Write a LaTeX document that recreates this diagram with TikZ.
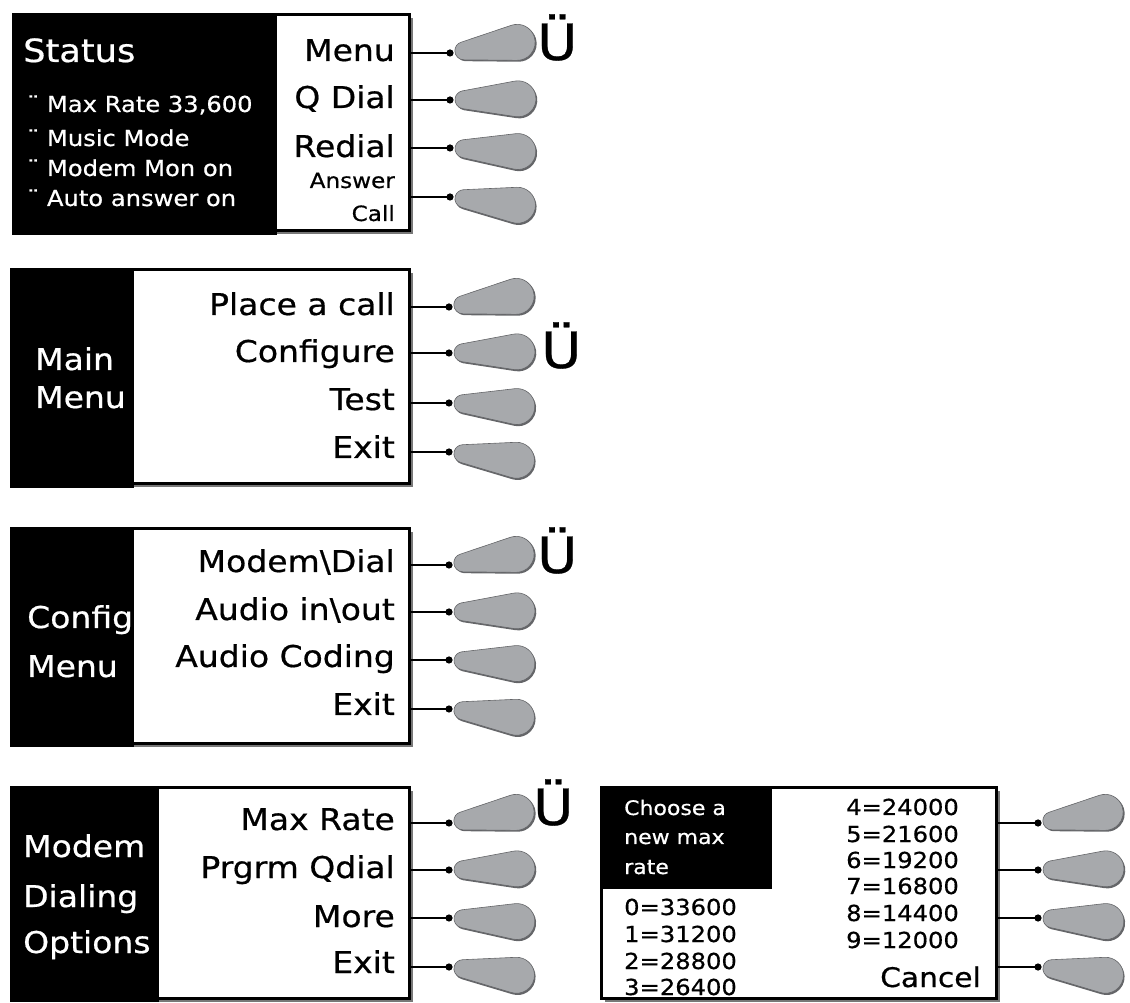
\documentclass[tikz,border=0pt]{standalone}
\usepackage{fontspec}
\setmainfont[FakeStretch=1.1,FakeBold=0.6]{DejaVu Sans}
\usepackage{tikz}
\usetikzlibrary{positioning,shadows}
\definecolor{knobgray}{RGB}{167,169,172}
\definecolor{knobdark}{RGB}{100,101,104}
\definecolor{shadegray}{RGB}{120,120,120}

\tikzset{
  pics/knob/.style={code={
    \fill[knobdark,shift={(1.3,-1.6)}] (12.5,8.87) -- (65,17.75)
      arc[start angle=99.6,end angle=-99.6,radius=18pt] -- (12.5,-8.87)
      arc[start angle=-99.6,end angle=-260.4,radius=9pt] -- cycle;
    \fill[knobgray,draw=knobdark,line width=0.6pt] (12.5,8.87) -- (65,17.75)
      arc[start angle=99.6,end angle=-99.6,radius=18pt] -- (12.5,-8.87)
      arc[start angle=-99.6,end angle=-260.4,radius=9pt] -- cycle;
  }}
}

\begin{document}
\begin{tikzpicture}[
  x=1pt, y=1pt,
  frame/.style={rectangle, draw=black, line width=2.6pt, fill=white, inner sep=0,
                anchor=south west,
                drop shadow={shadow xshift=3.5pt, shadow yshift=-3.5pt, fill=shadegray, opacity=1}},
  pane/.style={rectangle, fill=black, inner sep=0, anchor=south west},
  item/.style={anchor=base east, inner sep=0, font=\fontsize{30}{36}\selectfont},
  title/.style={anchor=base west, inner sep=0, text=white, font=\fontsize{30}{36}\selectfont},
  small/.style={anchor=base west, inner sep=0, font=\fontsize{22}{26}\selectfont},
  pick/.style={anchor=base west, inner sep=0, font=\fontsize{50}{60}\selectfont},
  wire/.style={line width=1.3pt},
  dot/.style={fill=black}
]
\useasboundingbox (0,0) rectangle (1130,1002);

% Status
\node[frame, minimum width=396pt, minimum height=216pt] (stat) at (12,770) {};
\node[pane, minimum width=265pt, minimum height=220pt] (statp) at (12,767) {};
\node[title, font=\fontsize{32}{38}\selectfont] (statt) at (23,940) {Status};
\node[small, text=white] (st1) at (27,890) {¨ Max Rate 33,600};
\node[small, text=white] (st2) at (27,856) {¨ Music Mode};
\node[small, text=white] (st3) at (27,826) {¨ Modem Mon on};
\node[small, text=white] (st4) at (27,796) {¨ Auto answer on};
\node[item] (sm1) at (395,941) {Menu};
\node[item] (sm2) at (395,894) {Q Dial};
\node[item] (sm3) at (395,845) {Redial};
\node[item, font=\fontsize{21}{25}\selectfont] (sm4) at (395,814) {Answer};
\node[item, font=\fontsize{21}{25}\selectfont] (sm5) at (395,781) {Call};
\foreach \i/\y/\a in {1/949/9, 2/902/1, 3/854/-3, 4/805/-7} {
  \coordinate (s\i) at (450,\y);
  \draw[wire] (stat.east |- s\i) -- (s\i);
  \fill[dot] (s\i) circle[radius=3.6pt];
  \pic[rotate=\a] at (s\i) {knob};
}
\node[pick] (spick) at (537,942) {Ü};

% Main Menu
\node[frame, minimum width=398pt, minimum height=214pt] (mainm) at (10,517) {};
\node[pane, minimum width=124pt, minimum height=220pt] (mainp) at (10,514) {};
\node[title] (maint1) at (35,632) {Main};
\node[title] (maint2) at (35,594) {Menu};
\node[item] (mm1) at (395,687) {Place a call};
\node[item] (mm2) at (395,640) {Configure};
\node[item] (mm3) at (395,592) {Test};
\node[item] (mm4) at (395,544) {Exit};
\foreach \i/\y/\a in {1/695/9, 2/649/1, 3/599/-3, 4/550/-7} {
  \coordinate (m\i) at (449,\y);
  \draw[wire] (mainm.east |- m\i) -- (m\i);
  \fill[dot] (m\i) circle[radius=3.6pt];
  \pic[rotate=\a] at (m\i) {knob};
}
\node[pick] (mpick) at (541,634) {Ü};

% Config Menu
\node[frame, minimum width=398pt, minimum height=215pt] (conf) at (10,257) {};
\node[pane, minimum width=124pt, minimum height=220pt] (confp) at (10,255) {};
\node[title] (conft1) at (27,374) {Config};
\node[title] (conft2) at (27,325) {Menu};
\node[item] (cm1) at (395,430) {Modem\textbackslash Dial};
\node[item] (cm2) at (395,382) {Audio in\textbackslash out};
\node[item] (cm3) at (395,335) {Audio Coding};
\node[item] (cm4) at (395,287) {Exit};
\foreach \i/\y/\a in {1/437/9, 2/390/1, 3/342/-3, 4/293/-7} {
  \coordinate (c\i) at (449,\y);
  \draw[wire] (conf.east |- c\i) -- (c\i);
  \fill[dot] (c\i) circle[radius=3.6pt];
  \pic[rotate=\a] at (c\i) {knob};
}
\node[pick] (cpick) at (537,429) {Ü};

% Modem Dialing Options
\node[frame, minimum width=398pt, minimum height=211pt] (modem) at (10,2) {};
\node[pane, minimum width=149pt, minimum height=216pt] (modemp) at (10,0) {};
\node[title] (modt1) at (23,145) {Modem};
\node[title] (modt2) at (23,95) {Dialing};
\node[title] (modt3) at (23,49) {Options};
\node[item] (dm1) at (395,172) {Max Rate};
\node[item] (dm2) at (395,124) {Prgrm Qdial};
\node[item] (dm3) at (395,75) {More};
\node[item] (dm4) at (395,29) {Exit};
\foreach \i/\y/\a in {1/179/9, 2/132/1, 3/84/-3, 4/35/-7} {
  \coordinate (d\i) at (449,\y);
  \draw[wire] (modem.east |- d\i) -- (d\i);
  \fill[dot] (d\i) circle[radius=3.6pt];
  \pic[rotate=\a] at (d\i) {knob};
}
\node[pick] (dpick) at (533,177) {Ü};

% Max rate choice
\node[frame, minimum width=395pt, minimum height=211pt] (rate) at (600,2) {};
\node[pane, minimum width=172pt, minimum height=102pt] (ratep) at (600,113) {};
\node[small, text=white, font=\fontsize{20}{24}\selectfont] (rt1) at (624,187) {Choose a};
\node[small, text=white, font=\fontsize{20}{24}\selectfont] (rt2) at (624,158) {new max};
\node[small, text=white, font=\fontsize{20}{24}\selectfont] (rt3) at (624,128) {rate};
\node[small] (r0) at (624,87) {0=33600};
\node[small] (r1) at (624,60) {1=31200};
\node[small] (r2) at (624,33) {2=28800};
\node[small] (r3) at (624,7) {3=26400};
\node[small] (r4) at (846,187) {4=24000};
\node[small] (r5) at (846,160) {5=21600};
\node[small] (r6) at (846,134) {6=19200};
\node[small] (r7) at (846,108) {7=16800};
\node[small] (r8) at (846,81) {8=14400};
\node[small] (r9) at (846,54) {9=12000};
\node[item, font=\fontsize{27}{32}\selectfont] (rcan) at (981,15) {Cancel};
\foreach \i/\y/\a in {1/179/9, 2/132/1, 3/84/-3, 4/35/-7} {
  \coordinate (r\i k) at (1038,\y);
  \draw[wire] (rate.east |- r\i k) -- (r\i k);
  \fill[dot] (r\i k) circle[radius=3.6pt];
  \pic[rotate=\a] at (r\i k) {knob};
}
\end{tikzpicture}
\end{document}
